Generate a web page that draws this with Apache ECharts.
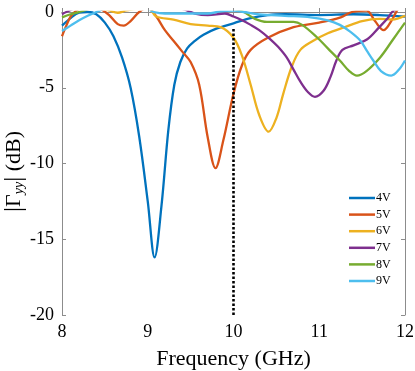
<!DOCTYPE html>
<html>
<head>
<meta charset="utf-8">
<script src="https://cdn.jsdelivr.net/npm/echarts@6/dist/echarts.min.js"></script>
<style>
html,body{margin:0;padding:0;background:#fff;}
#main{width:415px;height:371px;}
</style>
</head>
<body>
<div id="main"></div>
<script>
// legend names and colours (MATLAB default order)
const names = ['4V', '5V', '6V', '7V', '8V', '9V'];
const colorList = ['#0072BD', '#D95319', '#EDB120', '#7E2F8E', '#77AC30', '#4DBEEE'];

// [frequency GHz, |Γyy| dB]; values above 0 get clipped by the axis like in the figure
const s4V = [[8,-0.9],[8.1,-0.4],[8.2,-0.05],[8.3,0],[8.4,-0.15],[8.5,-0.7],[8.6,-1.6],[8.7,-3.0],[8.8,-5.0],[8.9,-8.2],[9.0,-12.5],[9.08,-16.2],[9.16,-12.8],[9.24,-7.8],[9.31,-4.8],[9.38,-3.3],[9.46,-2.4],[9.55,-1.9],[9.65,-1.5],[9.8,-1.1],[10,-0.75],[10.2,-0.4],[10.4,-0.2],[10.6,-0.15],[11.0,-0.2],[11.4,-0.15],[11.7,-0.2],[12,-0.3]];
const s5V = [[8,-1.6],[8.05,-0.9],[8.1,-0.3],[8.15,0],[8.3,0.5],[8.45,0.2],[8.55,-0.2],[8.65,-0.8],[8.72,-0.9],[8.8,-0.6],[8.9,0],[9.0,0.3],[9.1,-0.3],[9.2,-1.2],[9.3,-1.9],[9.4,-2.6],[9.5,-3.3],[9.6,-4.8],[9.7,-8.3],[9.79,-10.3],[9.88,-8.5],[10,-5.4],[10.1,-3.5],[10.2,-2.5],[10.4,-1.7],[10.7,-1.0],[11.0,-0.7],[11.25,-0.35],[11.38,0],[11.55,0.1],[11.65,-0.6],[11.75,-1.2],[11.85,-0.5],[11.92,0.2],[12,0.5]];
const s6V = [[8,0.5],[8.3,0.5],[8.55,0.1],[8.65,-0.05],[8.75,0.1],[9.0,0.3],[9.1,-0.3],[9.3,-0.5],[9.5,-0.8],[9.7,-0.9],[9.85,-1.0],[10.0,-1.7],[10.1,-2.9],[10.2,-4.8],[10.3,-6.8],[10.41,-7.9],[10.5,-7.0],[10.58,-5.4],[10.68,-3.6],[10.78,-2.5],[10.93,-1.9],[11.1,-1.4],[11.3,-1.0],[11.5,-0.6],[11.7,-0.45],[11.85,-0.5],[12,-0.25]];
const s7V = [[8,-0.15],[8.05,0],[8.3,0.5],[9,0.5],[9.4,0.2],[9.55,-0.1],[9.7,-0.2],[9.9,-0.1],[10.0,-0.3],[10.1,-0.55],[10.2,-0.85],[10.3,-1.2],[10.43,-1.8],[10.52,-2.3],[10.62,-3.0],[10.7,-3.8],[10.78,-4.6],[10.87,-5.3],[10.95,-5.6],[11.05,-5.2],[11.13,-4.3],[11.2,-3.2],[11.27,-2.5],[11.4,-2.2],[11.56,-1.8],[11.7,-1.0],[11.8,-0.4],[11.85,0],[12,0.6]];
const s8V = [[8,-0.35],[8.1,-0.15],[8.2,0],[8.5,0.4],[9.5,0.4],[10.0,0.2],[10.12,0],[10.25,-0.45],[10.39,-0.65],[10.55,-0.65],[10.7,-0.65],[10.8,-0.85],[10.97,-1.65],[11.1,-2.4],[11.24,-3.2],[11.35,-3.9],[11.44,-4.2],[11.55,-3.9],[11.71,-3.0],[11.85,-1.9],[12,-0.7]];
const s9V = [[8,-1.25],[8.1,-0.9],[8.2,-0.55],[8.3,-0.25],[8.4,0],[8.6,0.4],[9.0,0.2],[9.07,0],[9.2,-0.1],[9.5,-0.1],[9.7,-0.1],[9.85,0.05],[10.0,0.1],[10.12,0],[10.3,-0.15],[10.6,-0.25],[10.9,-0.35],[11.1,-0.55],[11.24,-0.85],[11.36,-1.3],[11.48,-1.9],[11.56,-2.6],[11.63,-3.2],[11.72,-3.9],[11.84,-4.2],[11.93,-3.8],[12,-3.2]];
const seriesValues = [s4V, s5V, s6V, s7V, s8V, s9V];

// dotted marker line at 10 GHz
const markerLine = [[10,-20],[10,-1]];

const xTicks = [8, 9, 10, 11, 12];
const yTicks = [-20, -15, -10, -5, 0];

const serif = 'Liberation Serif';
const axisGray = '#8c8c8c';

let myChart = echarts.init(document.getElementById('main'));

let series = seriesValues.map(function (d, i) {
    return {
        name: names[i],
        type: 'line',
        data: d,
        smooth: 0.35,
        symbol: 'none',
        clip: true,
        lineStyle: { width: 2.3, color: colorList[i] },
        itemStyle: { color: colorList[i] },
        z: 3 + i
    };
});
series.push({
    name: 'marker',
    type: 'line',
    data: markerLine,
    symbol: 'none',
    lineStyle: { width: 2.6, color: '#000', type: [2.5, 2] },
    z: 10
});

function axisBase(extra) {
    return Object.assign({
        axisLine: { show: true, lineStyle: { color: axisGray, width: 1 } },
        axisTick: { show: true, inside: true, length: 4, lineStyle: { color: axisGray } },
        splitLine: { show: false }
    }, extra);
}

myChart.setOption({
    animation: false,
    grid: { left: 62, right: 10, top: 12, bottom: 56, outerBoundsMode: 'none' },
    legend: {
        data: names,
        orient: 'vertical',
        left: 344,
        top: 187,
        icon: 'rect',
        itemWidth: 26,
        itemHeight: 2.5,
        itemGap: 4.6,
        textStyle: { fontFamily: serif, fontSize: 12, color: '#000', padding: [0, 0, 0, -4] }
    },
    xAxis: [
        axisBase({
            type: 'value', min: xTicks[0], max: xTicks[xTicks.length - 1], interval: 1,
            position: 'bottom',
            axisLabel: { fontFamily: serif, fontSize: 18, color: '#000', margin: 8 },
            name: 'Frequency (GHz)',
            nameLocation: 'middle',
            nameGap: 33,
            nameMoveOverlap: false,
            nameTextStyle: { fontFamily: serif, fontSize: 22, color: '#000' }
        }),
        axisBase({
            type: 'value', min: xTicks[0], max: xTicks[xTicks.length - 1], interval: 1,
            position: 'top',
            axisLabel: { show: false }
        })
    ],
    yAxis: [
        axisBase({
            type: 'value', min: yTicks[0], max: yTicks[yTicks.length - 1], interval: 5,
            position: 'left',
            axisLabel: { fontFamily: serif, fontSize: 18, color: '#000', margin: 8 },
            name: '{b||}{a|Γ}{s|yy}{b||}{a| (dB)}',
            nameLocation: 'middle',
            nameGap: 36,
            nameMoveOverlap: false,
            nameTextStyle: {
                fontFamily: serif, fontSize: 21, color: '#000',
                padding: [0, 16, 0, 0],
                rich: {
                    a: { fontFamily: serif, fontSize: 22, color: '#000', lineHeight: 24 },
                    b: { fontFamily: serif, fontSize: 25, color: '#000', lineHeight: 24 },
                    s: { fontFamily: serif, fontSize: 14, fontStyle: 'italic', color: '#000', verticalAlign: 'bottom', padding: [10, 0, 0, 0] }
                }
            }
        }),
        axisBase({
            type: 'value', min: yTicks[0], max: yTicks[yTicks.length - 1], interval: 5,
            position: 'right',
            axisLabel: { show: false }
        })
    ],
    series: series
});
</script>
</body>
</html>
